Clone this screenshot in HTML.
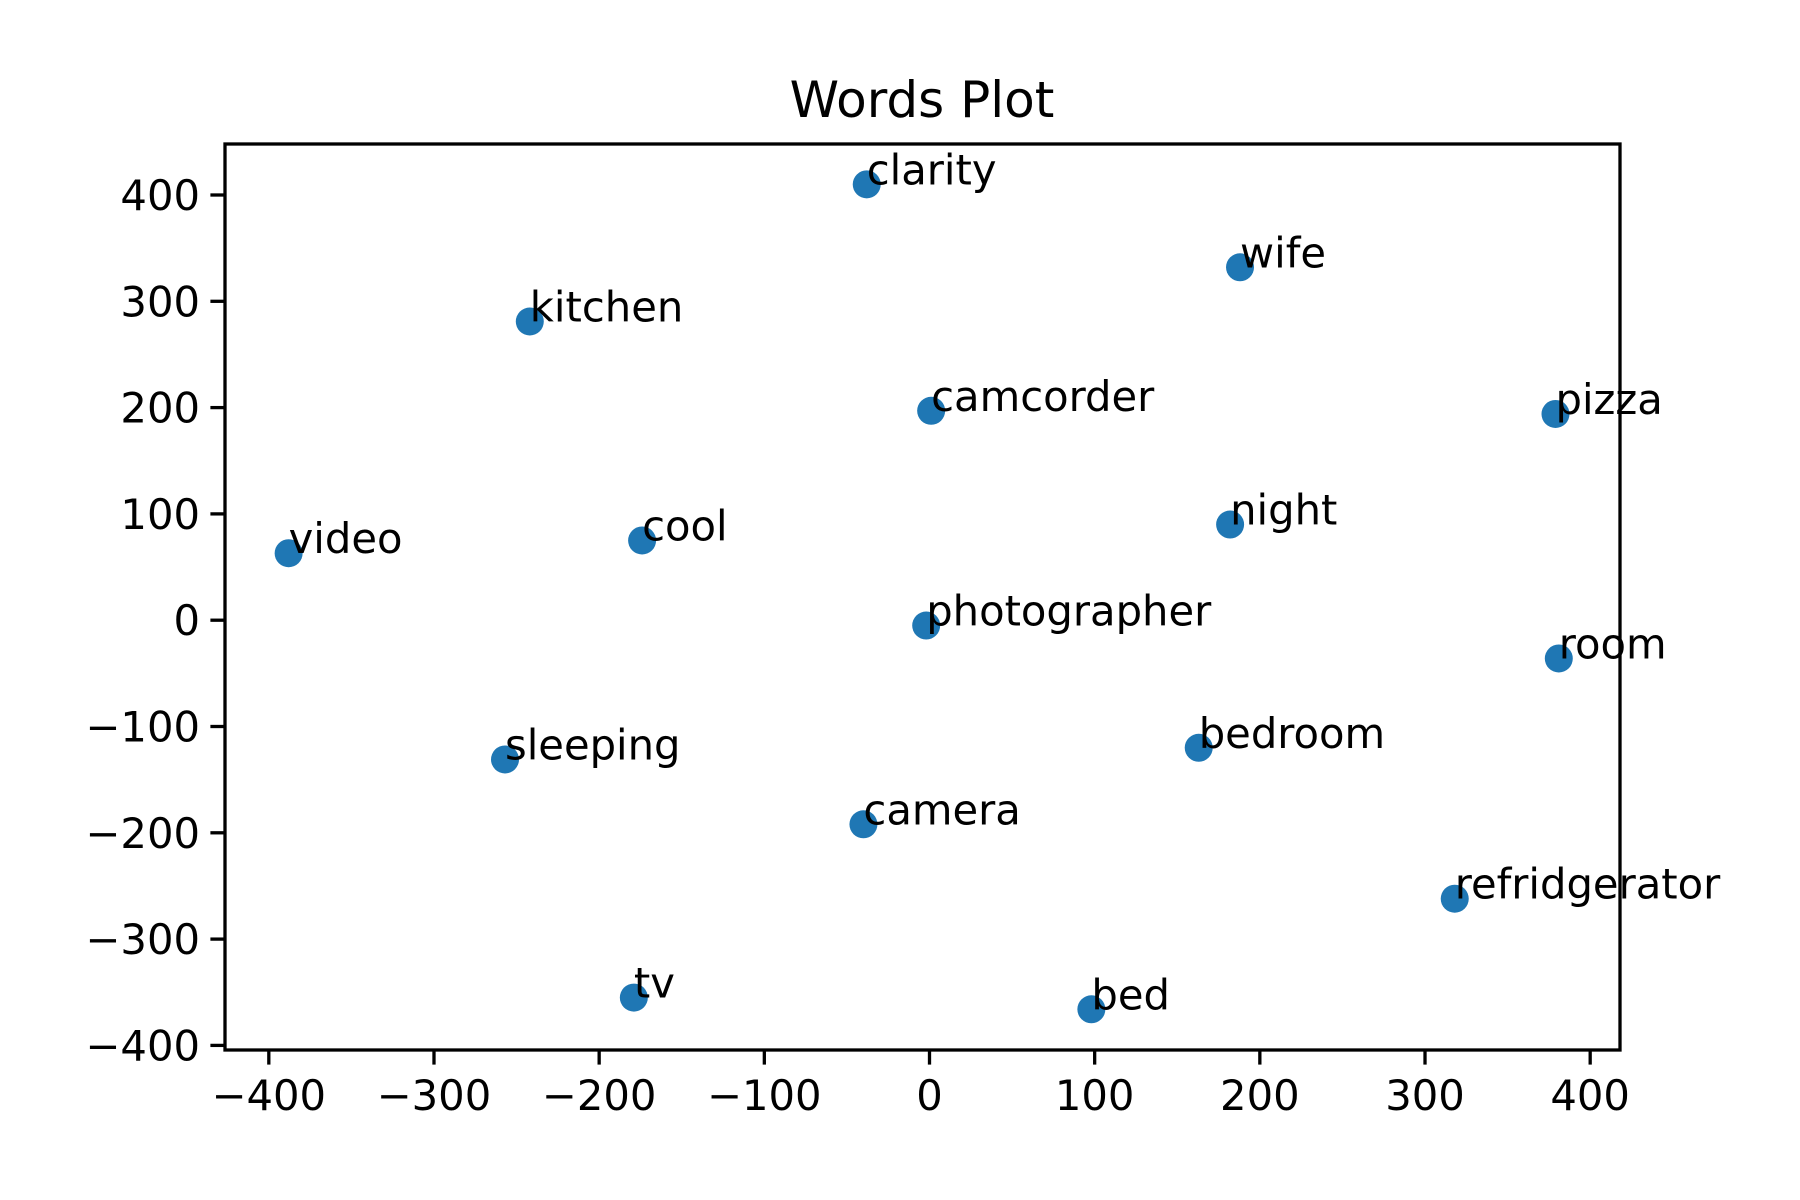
<!DOCTYPE html>
<html><head><meta charset="utf-8"><style>
html,body{margin:0;padding:0;background:#fff}
svg{display:block;font-family:"DejaVu Sans","Liberation Sans",sans-serif}
</style></head><body>
<svg id="chart" width="1800" height="1200" viewBox="0 0 1800 1200" xmlns="http://www.w3.org/2000/svg">
<rect width="1800" height="1200" fill="#fff"/>
<text x="922" y="117" font-size="50" text-anchor="middle">Words Plot</text>
<g id="marks"></g>
<g id="axes"></g>
</svg>
<script>
const words = ["clarity","wife","kitchen","camcorder","pizza","video","cool","night","photographer","room","sleeping","bedroom","camera","refridgerator","tv","bed"];
const xValues = [-38,188,-242,1,379,-388,-174,182,-2,381,-257,163,-40,318,-179,98];
const yValues = [410,332,281,197,194,63,75,90,-5,-36,-131,-120,-192,-262,-355,-366];
const xTicks = [-400,-300,-200,-100,0,100,200,300,400];
const yTicks = [-400,-300,-200,-100,0,100,200,300,400];

const L=225,R=1620,T=144,B=1050;
const sx=v=>929.5+v*1.6517;
const sy=v=>620.2-v*1.063;
const NS="http://www.w3.org/2000/svg";
const marks=document.getElementById('marks');
const axes=document.getElementById('axes');
function mk(tag,attrs,parent){const e=document.createElementNS(NS,tag);for(const k in attrs)e.setAttribute(k,attrs[k]);parent.appendChild(e);return e;}
words.forEach((w,i)=>{
  const c=mk('circle',{cx:sx(xValues[i]),cy:sy(yValues[i]),r:14,fill:'#1f77b4'},marks);
  
  
  const t=mk('text',{x:sx(xValues[i]),y:sy(yValues[i]),'font-size':41.7},marks);
  t.textContent=w;
  
  
});
const fr=mk('rect',{x:L,y:T,width:R-L,height:B-T,fill:'none',stroke:'#000','stroke-width':3.3},axes);


xTicks.forEach(v=>{
  const x=sx(v);
  const l=mk('line',{x1:x,x2:x,y1:B,y2:B+14.6,stroke:'#000','stroke-width':3.3},axes);
  
  
  const t=mk('text',{x:x,y:B+60,'font-size':41.7,'text-anchor':'middle'},axes);
  t.textContent=v<0?'\u2212'+(-v):String(v);
  
  
});
yTicks.forEach(v=>{
  const y=sy(v);
  const l=mk('line',{x1:L-14.6,x2:L,y1:y,y2:y,stroke:'#000','stroke-width':3.3},axes);
  
  
  const t=mk('text',{x:L-25,y:y+15,'font-size':41.7,'text-anchor':'end'},axes);
  t.textContent=v<0?'\u2212'+(-v):String(v);
  
  
});
</script>
</body></html>
